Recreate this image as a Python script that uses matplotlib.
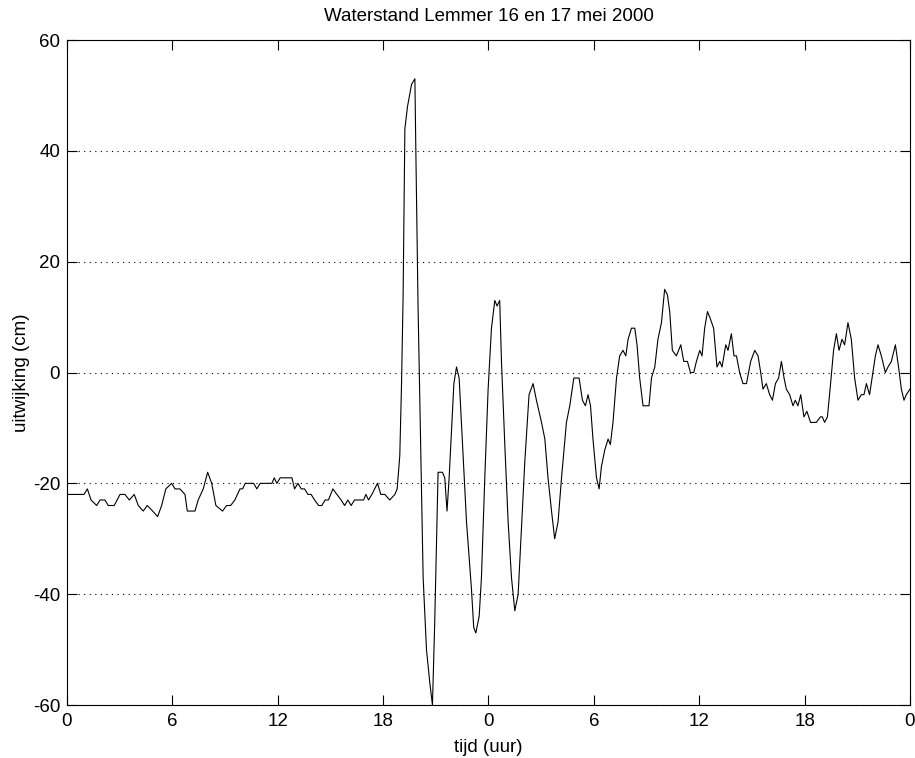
import numpy as np
import matplotlib
matplotlib.use('Agg')
import matplotlib.pyplot as plt

# Water level at Lemmer, 16-17 May 2000 (hours since start, deviation in cm)
tijd = [0.00, 0.97, 1.16, 1.37, 1.69, 1.88, 2.16, 2.35, 2.69, 3.02, 3.30, 3.55,
        3.83, 4.06, 4.34, 4.57, 4.88, 5.16, 5.39, 5.63, 5.96, 6.15, 6.43, 6.72,
        6.85, 7.29, 7.47, 7.76, 8.01, 8.24, 8.48, 8.86, 9.09, 9.32, 9.56, 9.85,
        10.00, 10.15, 10.63, 10.81, 11.00, 11.67, 11.80, 11.95, 12.14, 12.81,
        12.96, 13.15, 13.34, 13.53, 13.72, 13.90, 14.10, 14.33, 14.51, 14.70,
        14.89, 15.14, 15.37, 15.61, 15.81, 15.99, 16.18, 16.37, 16.89, 17.02,
        17.17, 17.36, 17.68, 17.87, 18.10, 18.38, 18.67, 18.80, 18.95, 19.05,
        19.14, 19.24, 19.39, 19.62, 19.81, 19.86, 19.99, 20.15, 20.28, 20.47,
        20.66, 20.81, 20.94, 21.13, 21.38, 21.51, 21.64, 21.76, 21.90, 22.03,
        22.18, 22.33, 22.46, 22.75, 23.03, 23.16, 23.28, 23.47, 23.60, 23.79,
        23.98, 24.17, 24.36, 24.49, 24.64, 24.74, 24.93, 25.12, 25.31, 25.50,
        25.69, 25.88, 26.07, 26.31, 26.54, 26.73, 27.02, 27.21, 27.39, 27.59,
        27.77, 27.96, 28.16, 28.44, 28.63, 28.86, 29.01, 29.16, 29.35, 29.52,
        29.67, 29.81, 29.95, 30.15, 30.30, 30.43, 30.62, 30.81, 30.94, 31.09,
        31.29, 31.47, 31.66, 31.82, 31.95, 32.14, 32.33, 32.46, 32.61, 32.80,
        33.14, 33.28, 33.47, 33.65, 33.85, 34.03, 34.19, 34.32, 34.47, 34.70,
        34.95, 35.12, 35.33, 35.50, 35.69, 35.84, 36.03, 36.16, 36.31, 36.47,
        36.60, 36.82, 37.01, 37.17, 37.30, 37.51, 37.64, 37.83, 37.98, 38.12,
        38.30, 38.49, 38.69, 38.93, 39.16, 39.35, 39.50, 39.63, 39.82, 40.01,
        40.17, 40.34, 40.52, 40.68, 40.83, 40.96, 41.15, 41.34, 41.47, 41.62,
        41.78, 41.96, 42.13, 42.34, 42.67, 42.90, 43.01, 43.14, 43.30, 43.48,
        43.65, 43.81, 43.96, 44.13, 44.28, 44.47, 44.66, 44.85, 45.04, 45.23,
        45.38, 45.52, 45.70, 45.89, 46.03, 46.18, 46.37, 46.60, 46.75, 46.94,
        47.17, 47.35, 47.51, 47.66, 47.79, 48.00]

uitwijking = [-22, -22, -21, -23, -24, -23, -23, -24, -24, -22, -22, -23,
              -22, -24, -25, -24, -25, -26, -24, -21, -20, -21, -21, -22,
              -25, -25, -23, -21, -18, -20, -24, -25, -24, -24, -23, -21,
              -21, -20, -20, -21, -20, -20, -19, -20, -19, -19,
              -21, -20, -21, -21, -22, -22, -23, -24, -24, -23,
              -23, -21, -22, -23, -24, -23, -24, -23, -23, -22,
              -23, -22, -20, -22, -22, -23, -22, -21, -15, -2,
              14, 44, 48, 52, 53, 41, 12, -15, -37, -50,
              -56, -60, -45, -18, -18, -19, -25, -19, -10, -2,
              1, -1, -9, -27, -39, -46, -47, -44, -37, -19,
              -3, 8, 13, 12, 13, 2, -13, -27, -37, -43,
              -40, -28, -16, -4, -2, -5, -9, -12, -19, -25,
              -30, -27, -19, -9, -6, -1, -1, -1, -5, -6,
              -4, -6, -12, -19, -21, -17, -14, -12, -13, -9,
              -1, 3, 4, 3, 6, 8, 8, 5, -1, -6,
              -6, -1, 1, 6, 9, 15, 14, 11, 4, 3,
              5, 2, 2, 0, 0, 2, 4, 3, 8, 11,
              10, 8, 1, 2, 1, 5, 4, 7, 3, 3,
              0, -2, -2, 2, 4, 3, 0, -3, -2, -4,
              -5, -2, -1, 2, -1, -3, -4, -6, -5, -6,
              -4, -8, -7, -9, -9, -8, -8, -9, -8, -2,
              4, 7, 4, 6, 5, 9, 6, -1, -5, -4,
              -4, -2, -4, 0, 3, 5, 3, 0, 1, 2,
              5, 1, -3, -5, -4, -3]

x_ticks = [0, 6, 12, 18, 24, 30, 36, 42, 48]
x_labels = ['0', '6', '12', '18', '0', '6', '12', '18', '0']
y_ticks = [-60, -40, -20, 0, 20, 40, 60]

plt.rcParams['font.family'] = ['Liberation Sans', 'DejaVu Sans']
plt.rcParams['axes.unicode_minus'] = False

fig = plt.figure(figsize=(9.15, 7.58), dpi=100)
ax = fig.add_axes([0.0732, 0.0699, 0.9213, 0.8773])

ax.plot(tijd, uitwijking, color='black', linewidth=0.8)

ax.set_xlim(0, 48)
ax.set_ylim(-60, 60)
ax.set_xticks(x_ticks)
ax.set_xticklabels(x_labels)
ax.set_yticks(y_ticks)

ax.yaxis.grid(True, linestyle=(0, (1, 4)), color='black', linewidth=0.8)
ax.tick_params(direction='in', top=True, right=True, length=7, width=0.8,
               labelsize=13.5)
ax.tick_params(axis='x', pad=6)
ax.tick_params(axis='y', pad=5)
for spine in ax.spines.values():
    spine.set_linewidth(0.8)

ax.set_title('Waterstand Lemmer 16 en 17 mei 2000', fontsize=13.5, pad=14)
ax.set_xlabel('tijd (uur)', fontsize=13.5, labelpad=6)
ax.set_ylabel('uitwijking (cm)', fontsize=13.5, labelpad=2)

plt.savefig('out.png', dpi=100)
plt.close()
